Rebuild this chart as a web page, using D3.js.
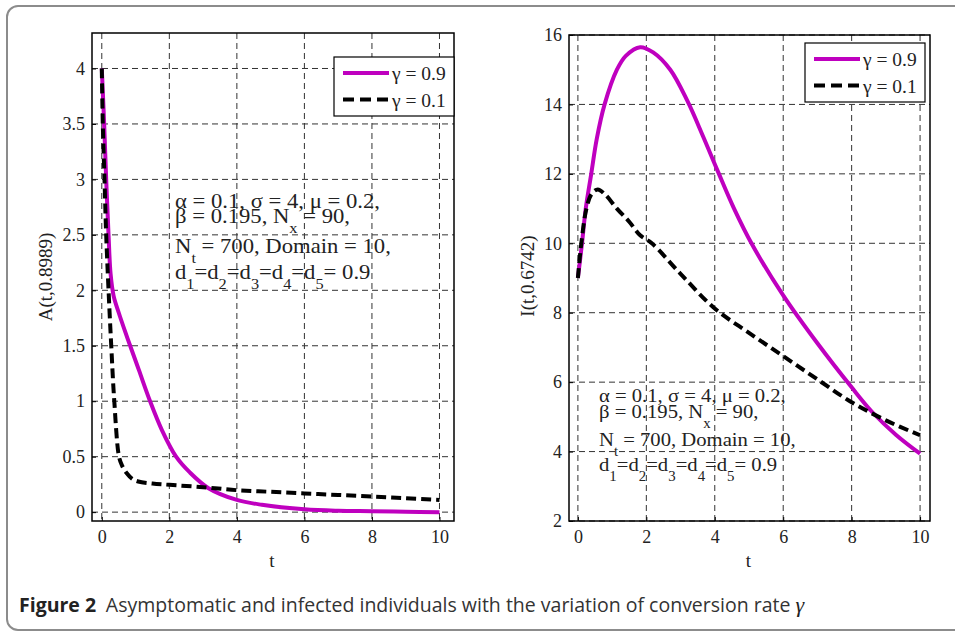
<!DOCTYPE html>
<html>
<head>
<meta charset="utf-8">
<script src="https://cdn.jsdelivr.net/npm/d3@7"></script>
<style>
  body { margin: 0; background: #fff; }
  svg text { font-family: "Liberation Serif", "Times New Roman", serif; fill: #222; }
  svg text.cap { font-family: "Open Sans", "Noto Sans", sans-serif; }
</style>
</head>
<body>
<svg id="fig" width="955" height="633"></svg>
<script>
// tick values
var tTicks = [0, 2, 4, 6, 8, 10];
var aTicks = [0, 0.5, 1, 1.5, 2, 2.5, 3, 3.5, 4];
var iTicks = [2, 4, 6, 8, 10, 12, 14, 16];

// A(t) for gamma = 0.9 and 0.1
var aT09 = [0, 0.07, 0.13, 0.2, 0.26, 0.35, 0.5, 0.7, 0.84, 1.1, 1.43, 1.78, 2.2, 2.6, 3.16, 4, 4.74, 6, 7, 8, 9, 10];
var aV09 = [4, 3.5, 3.0, 2.5, 2.15, 1.95, 1.8, 1.62, 1.5, 1.28, 1.0, 0.74, 0.5, 0.36, 0.216, 0.11, 0.066, 0.025, 0.012, 0.008, 0.003, 0];
var aT01 = [0, 0.03, 0.08, 0.13, 0.2, 0.28, 0.37, 0.51, 0.6, 0.74, 0.9, 1.08, 1.5, 2, 3, 4, 5, 6, 7, 8, 9, 10];
var aV01 = [4, 3.5, 3.0, 2.5, 2.0, 1.5, 1.0, 0.5, 0.42, 0.35, 0.3, 0.276, 0.258, 0.246, 0.225, 0.198, 0.183, 0.168, 0.155, 0.14, 0.125, 0.11];

// I(t) for gamma = 0.9 and 0.1
var iT09 = [0, 0.12, 0.23, 0.39, 0.55, 0.78, 1.14, 1.4, 1.82, 2.2, 2.7, 3.2, 3.65, 4.1, 4.55, 5.1, 6, 7, 8, 8.6, 9.3, 10];
var iV09 = [9.0, 10, 11, 12, 13, 14, 15, 15.4, 15.65, 15.5, 15, 14.1, 13.1, 12.05, 11.03, 9.95, 8.5, 7.12, 5.85, 5.14, 4.48, 3.94];
var iT01 = [0, 0.1, 0.25, 0.4, 0.58, 0.8, 1.14, 1.5, 1.82, 2.16, 3, 4, 5, 6, 7, 8, 9, 10];
var iV01 = [9.0, 10, 11, 11.42, 11.55, 11.4, 11, 10.62, 10.23, 10, 9.12, 8.12, 7.42, 6.75, 6.08, 5.42, 4.9, 4.47];

var legendLabels = ["γ = 0.9", "γ = 0.1"];

var magenta = "#bf00bf";
var svg = d3.select("#fig");

// outer rounded frame
svg.append("rect")
  .attr("x", 7).attr("y", 6)
  .attr("width", 980).attr("height", 624)
  .attr("rx", 11)
  .attr("fill", "none")
  .attr("stroke", "#8c8c8c")
  .attr("stroke-width", 2);

function zip(ts, vs) {
  return ts.map(function(t, i) { return [t, vs[i]]; });
}

function panel(opt) {
  var x = d3.scaleLinear().domain(opt.xDom).range([opt.left, opt.right]);
  var y = d3.scaleLinear().domain(opt.yDom).range([opt.bottom, opt.top]);
  var g = svg.append("g");

  // dashed grid
  g.selectAll(".vg").data(tTicks).enter().append("line")
    .attr("x1", d => x(d)).attr("x2", d => x(d))
    .attr("y1", opt.top).attr("y2", opt.bottom)
    .attr("stroke", "#333").attr("stroke-width", 1).attr("stroke-dasharray", "6,4");
  g.selectAll(".hg").data(opt.yTicks).enter().append("line")
    .attr("x1", opt.left).attr("x2", opt.right)
    .attr("y1", d => y(d)).attr("y2", d => y(d))
    .attr("stroke", "#333").attr("stroke-width", 1).attr("stroke-dasharray", "6,4");

  // axes (inward ticks)
  var xa = g.append("g").attr("transform", `translate(0,${opt.bottom})`)
    .call(d3.axisBottom(x).tickValues(tTicks).tickSize(-4).tickPadding(9));
  var ya = g.append("g").attr("transform", `translate(${opt.left},0)`)
    .call(d3.axisLeft(y).tickValues(opt.yTicks).tickSize(-4).tickPadding(7).tickFormat(d3.format("")));
  [xa, ya].forEach(function(a) {
    a.select(".domain").remove();
    a.selectAll("line").attr("stroke", "#000");
    a.selectAll("text").attr("font-size", 18).attr("font-family", "Liberation Serif").attr("fill", "#222");
  });

  // box
  g.append("rect")
    .attr("x", opt.left).attr("y", opt.top)
    .attr("width", opt.right - opt.left).attr("height", opt.bottom - opt.top)
    .attr("fill", "none").attr("stroke", "#000").attr("stroke-width", 1.5);

  // curves
  var line = d3.line().x(d => x(d[0])).y(d => y(d[1])).curve(d3.curveCatmullRom.alpha(0.5));
  g.append("path").datum(opt.s09).attr("d", line)
    .attr("fill", "none").attr("stroke", magenta).attr("stroke-width", 4);
  g.append("path").datum(opt.s01).attr("d", line)
    .attr("fill", "none").attr("stroke", "#000").attr("stroke-width", 4)
    .attr("stroke-dasharray", "10,5");

  // axis labels
  g.append("text").attr("x", (opt.left + opt.right) / 2 - 1).attr("y", 567)
    .attr("text-anchor", "middle").attr("font-size", 19).text("t");
  g.append("text")
    .attr("transform", `translate(${opt.ylx},${opt.yly}) rotate(-90)`)
    .attr("text-anchor", "middle").attr("font-size", 19).text(opt.ylabel);

  // legend
  var L = opt.legend;
  g.append("rect").attr("x", L.x).attr("y", L.y).attr("width", L.w).attr("height", L.h)
    .attr("fill", "#fff").attr("stroke", "#000").attr("stroke-width", 1.2);
  legendLabels.forEach(function(lab, i) {
    var ly = L.y + 16 + i * 26.5;
    g.append("line").attr("x1", L.x + 9).attr("x2", L.x + 55).attr("y1", ly).attr("y2", ly)
      .attr("stroke", i === 0 ? magenta : "#000").attr("stroke-width", 4)
      .attr("stroke-dasharray", i === 0 ? null : "11,6");
    g.append("text").attr("x", L.x + 58).attr("y", ly + 7).attr("font-size", 19.5).text(lab);
  });

  // parameter note
  var A = opt.note;
  var lines = [
    [["α = 0.1, σ = 4, μ = 0.2,", 0]],
    [["β = 0.195, N", 0], ["x", 1], [" = 90,", 0]],
    [["N", 0], ["t", 1], [" = 700, Domain = 10,", 0]],
    [["d", 0], ["1", 1], ["=d", 0], ["2", 1], ["=d", 0], ["3", 1], ["=d", 0], ["4", 1], ["=d", 0], ["5", 1], ["= 0.9", 0]]
  ];
  var ng = g.append("g").attr("transform", `translate(${A.x},0) scale(${A.sx},1)`);
  lines.forEach(function(segs, i) {
    var t = ng.append("text").attr("x", 0).attr("y", A.ys[i]).attr("font-size", A.fs);
    var down = false;
    segs.forEach(function(s) {
      var ts = t.append("tspan").text(s[0]);
      if (s[1]) { ts.attr("font-size", A.fs * 0.72).attr("dy", 10); down = true; }
      else if (down) { ts.attr("dy", -10); down = false; }
    });
  });
}

panel({
  left: 92, right: 454, top: 33, bottom: 521,
  xDom: [-0.29, 10.43], yDom: [-0.08, 4.32], yTicks: aTicks,
  s09: zip(aT09, aV09), s01: zip(aT01, aV01),
  ylabel: "A(t,0.8989)", ylx: 52, yly: 277,
  legend: { x: 334, y: 57, w: 120, h: 59 },
  note: { x: 175, ys: [208, 223, 253, 279], fs: 21, sx: 1.08 }
});

panel({
  left: 569, right: 930, top: 35, bottom: 521,
  xDom: [-0.26, 10.29], yDom: [2, 16], yTicks: iTicks,
  s09: zip(iT09, iV09), s01: zip(iT01, iV01),
  ylabel: "I(t,0.6742)", ylx: 534, yly: 276,
  legend: { x: 805, y: 43, w: 120, h: 59 },
  note: { x: 599, ys: [402, 418, 446, 471], fs: 19.5, sx: 1.06 }
});

// caption
var cap = svg.append("text").attr("class", "cap").attr("x", 19).attr("y", 612).attr("font-size", 19.5);
cap.append("tspan").attr("font-weight", "bold").attr("fill", "#222").text("Figure 2");
cap.append("tspan").attr("fill", "#333").text("\u2002Asymptomatic and infected individuals with the variation of conversion rate ");
cap.append("tspan").attr("font-family", "Liberation Serif").attr("font-style", "italic").attr("font-size", 22).text("γ");
</script>
</body>
</html>
